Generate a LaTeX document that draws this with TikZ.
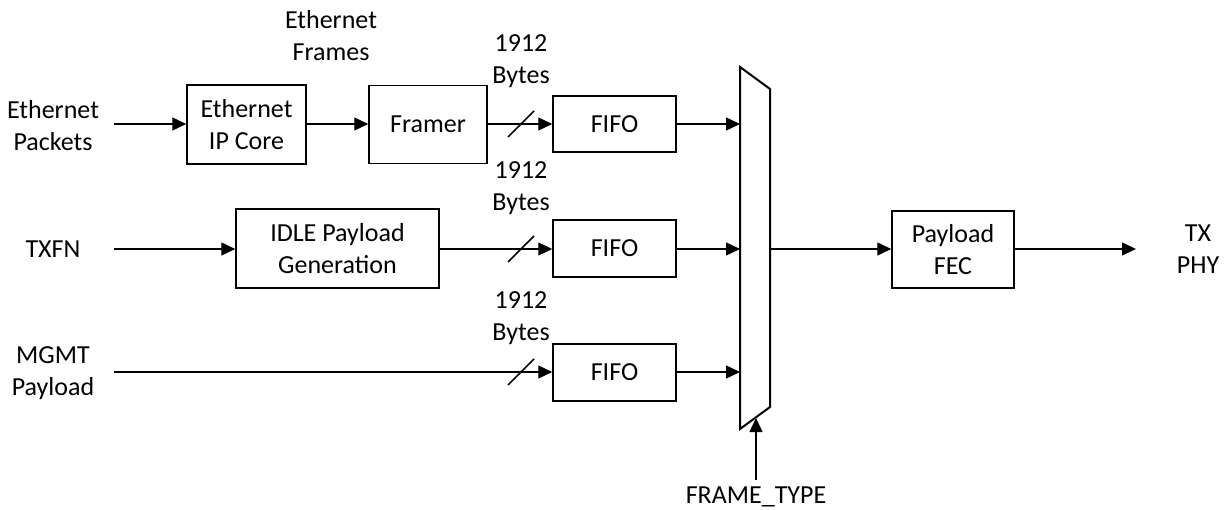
\documentclass[tikz,border=0pt]{standalone}
\usepackage{fontspec}
\setmainfont{Carlito}
\usetikzlibrary{arrows.meta}
\begin{document}
\begin{tikzpicture}[x=1pt,y=-1pt,
  every node/.style={font=\fontsize{26}{32}\selectfont, align=center, inner sep=0pt},
  blk/.style={draw, line width=1.5pt, minimum width=#1},
  lbl/.style={},
  conn/.style={line width=1.4pt, -{Triangle[length=14pt,width=13pt]}},
  slash/.style={line width=1.5pt}
]
\useasboundingbox (0,0) rectangle (1229,510);

% boxes
\node[blk=119pt, minimum height=79pt] (ipcore) at (246.5,124.5) {Ethernet\\IP Core};
\node[blk=118pt, minimum height=78pt] (framer) at (428,124.5) {Framer};
\node[blk=123pt, minimum height=56pt] (fifo1) at (614.5,124) {FIFO};
\node[blk=123pt, minimum height=57pt] (fifo2) at (614.5,248.5) {FIFO};
\node[blk=123pt, minimum height=57pt] (fifo3) at (614.5,372.5) {FIFO};
\node[blk=203pt, minimum height=79pt] (idle) at (337.5,248.5) {IDLE Payload\\Generation};
\node[blk=122pt, minimum height=77pt] (fec) at (953,249.5) {Payload\\FEC};

% mux
\coordinate (mtl) at (740,67);
\coordinate (mtr) at (770,89);
\coordinate (mbr) at (770,407);
\coordinate (mbl) at (740,429);
\draw[line width=2pt, line join=miter] (mtl) -- (mtr) -- (mbr) -- (mbl) -- cycle;
\coordinate (mout) at (770,249);
\coordinate (msel) at (756,418);

% input labels
\node[lbl] (ethpk) at (53,126) {Ethernet\\Packets};
\node[lbl] (txfn) at (53,249) {TXFN};
\node[lbl] (mgmt) at (53,373) {MGMT\\Payload};
\node[lbl] (frames) at (331,36) {Ethernet\\Frames};
\node[lbl] (b1) at (521,61) {1912\\Bytes};
\node[lbl] (b2) at (521,188) {1912\\Bytes};
\node[lbl] (b3) at (521,318) {1912\\Bytes};
\node[lbl] (txphy) at (1198,249) {TX\\PHY};
\node[lbl] (ftype) at (756,497) {FRAME\_TYPE};

\coordinate (i1) at (114,124);
\coordinate (i2) at (114,249);
\coordinate (i3) at (114,372);
\coordinate (o1) at (1136,249);
\coordinate (fs) at (756,480);

% connectors
\draw[conn] (i1) -- (ipcore.west |- i1);
\draw[conn] (ipcore.east |- i1) -- (framer.west |- i1);
\draw[conn] (framer.east |- i1) -- (fifo1.west);
\draw[conn] (fifo1.east) -- (fifo1.east -| mtl);
\draw[conn] (i2) -- (idle.west |- i2);
\draw[conn] (idle.east |- i2) -- (fifo2.west |- i2);
\draw[conn] (fifo2.east |- i2) -- (i2 -| mtl);
\draw[conn] (i3) -- (fifo3.west |- i3);
\draw[conn] (fifo3.east |- i3) -- (i3 -| mtl);
\draw[conn] (mout) -- (fec.west |- mout);
\draw[conn] (fec.east |- mout) -- (o1);
\draw[conn] (fs) -- (msel);

% bus slashes
\draw[slash] (508,137) -- (534,111);
\draw[slash] (508,262) -- (534,236);
\draw[slash] (508,385) -- (534,359);
\end{tikzpicture}
\end{document}
